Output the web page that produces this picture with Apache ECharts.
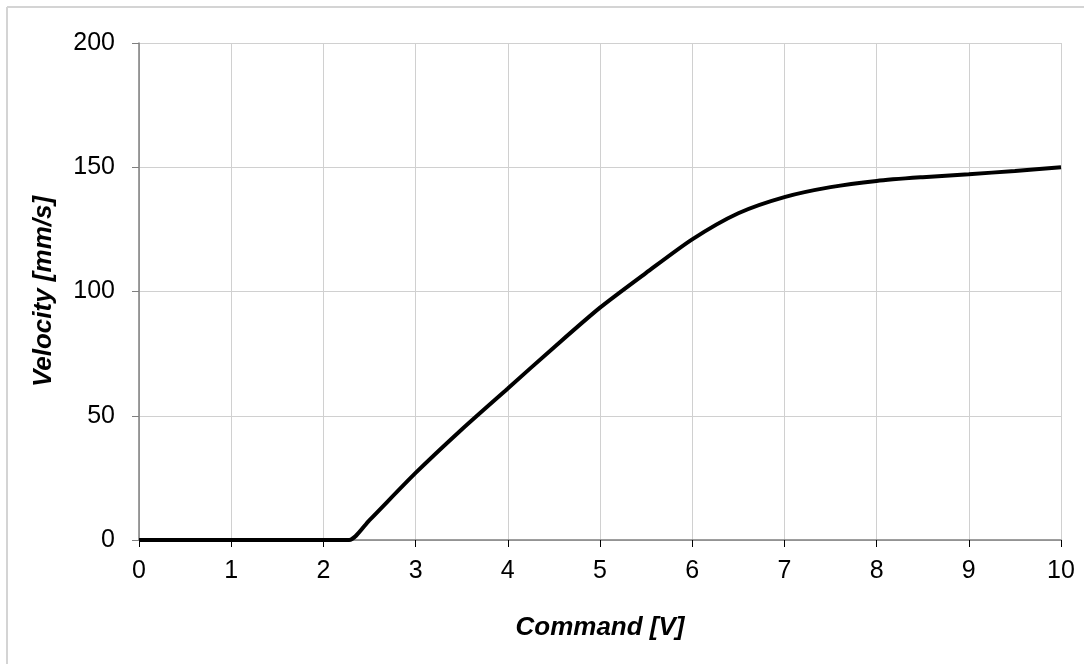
<!DOCTYPE html>
<html>
<head>
<meta charset="utf-8">
<script src="https://cdn.jsdelivr.net/npm/echarts@6/dist/echarts.min.js"></script>
<style>
html,body{margin:0;padding:0;background:#fff;}
#chart{width:1084px;height:664px;}
</style>
</head>
<body>
<div id="chart"></div>
<script>
var commandV = [0, 1, 2, 2.2, 2.28, 2.5, 3, 3.5, 4, 4.5, 5, 5.5, 6, 6.5, 7, 7.5, 8, 8.5, 9, 9.5, 10];
var velocity = [0, 0, 0, 0, 0, 8, 27, 44.5, 61, 77.5, 93.5, 107.5, 121, 131.5, 138, 142, 144.5, 146, 147.2, 148.5, 150];
var xTicks = [0, 1, 2, 3, 4, 5, 6, 7, 8, 9, 10];
var yTicks = [0, 50, 100, 150, 200];

var pts = commandV.map(function (x, i) { return [x, velocity[i]]; });
var chart = echarts.init(document.getElementById('chart'));
var font = 'Liberation Sans, Arial, sans-serif';
chart.setOption({
  animation: false,
  backgroundColor: '#fff',
  graphic: [
    { type: 'line', shape: { x1: 7, y1: 7, x2: 1084, y2: 7 }, style: { stroke: '#d4d4d4', lineWidth: 2 } },
    { type: 'line', shape: { x1: 7, y1: 7, x2: 7, y2: 664 }, style: { stroke: '#d4d4d4', lineWidth: 2 } }
  ],
  grid: { left: 139, right: 23, top: 43, bottom: 124, containLabel: false },
  xAxis: {
    type: 'value', min: xTicks[0], max: xTicks[xTicks.length - 1], interval: 1,
    name: 'Command [V]', nameLocation: 'middle', nameGap: 75,
    nameTextStyle: { fontFamily: font, fontSize: 26, fontWeight: 'bold', fontStyle: 'italic', color: '#000' },
    axisLine: { onZero: false, lineStyle: { color: '#7f7f7f', width: 1.5 } },
    axisTick: { show: true, length: 7, lineStyle: { color: '#000', width: 1 } },
    axisLabel: { fontFamily: font, fontSize: 25, color: '#000', margin: 19 },
    splitLine: { show: true, lineStyle: { color: '#d0d0d0', width: 1 } }
  },
  yAxis: {
    type: 'value', min: yTicks[0], max: yTicks[yTicks.length - 1], interval: 50,
    name: 'Velocity [mm/s]', nameLocation: 'middle', nameGap: 82,
    nameTextStyle: { fontFamily: font, fontSize: 26, fontWeight: 'bold', fontStyle: 'italic', color: '#000' },
    axisLine: { show: true, lineStyle: { color: '#7f7f7f', width: 1.5 } },
    axisTick: { show: true, length: 7, lineStyle: { color: '#7f7f7f', width: 1 } },
    axisLabel: { fontFamily: font, fontSize: 25, color: '#000', margin: 24 },
    splitLine: { show: true, lineStyle: { color: '#d0d0d0', width: 1 } }
  },
  series: [{
    type: 'line', data: pts, showSymbol: false, smooth: 0.25,
    lineStyle: { color: '#000', width: 4 }, z: 5
  }]
});
</script>
</body>
</html>
